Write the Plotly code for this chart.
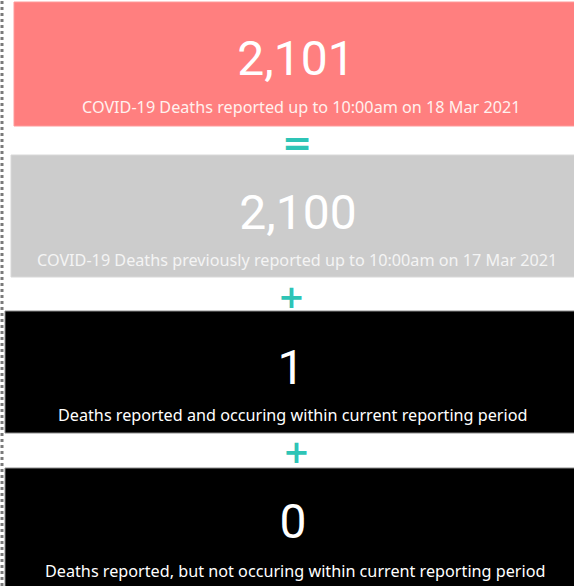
import plotly.graph_objects as go

W, H = 574, 586

# ---- data ----
values = [2101, 2100, 1, 0]
labels = [
    "COVID-19 Deaths reported up to 10:00am on 18 Mar 2021",
    "COVID-19 Deaths previously reported up to 10:00am on 17 Mar 2021",
    "Deaths reported and occuring within current reporting period",
    "Deaths reported, but not occuring within current reporting period",
]
operators = ["=", "+", "+"]

# ---- styling / layout (pixels) ----
card_fill = ["#FF7F7F", "#CCCCCC", "#000000", "#000000"]
card_line = ["#FF9A9A", "#D8D8D8", "#8A8A8A", "#8A8A8A"]
label_color = ["#FFF1EE", "#F4F4F4", "#FFFFFF", "#FFFFFF"]
card_box = [(14, 2, 576, 126), (11, 155, 576, 277), (5, 311, 576, 433), (5, 468, 576, 590)]
num_cy = [58.5, 212, 367.5, 521]
num_cx = [296, 298, 291, 293]
lab_cy = [106, 259, 414, 570]
lab_cx = [301, 297, 292, 295]
op_pos = [(296.5, 142), (291, 297), (296, 452)]
op_size = [36, 32, 32]

TEAL = "#2EC4B6"

def px(x):
    return x / W

def py(y):
    return 1 - y / H

fig = go.Figure()

shapes = []
for (x0, y0, x1, y1), fc, lc in zip(card_box, card_fill, card_line):
    shapes.append(dict(type="rect", xref="paper", yref="paper",
                       x0=px(x0), x1=px(x1), y0=py(y1), y1=py(y0),
                       fillcolor=fc, line=dict(color=lc, width=1), layer="below"))
# dotted left border
shapes.append(dict(type="line", xref="paper", yref="paper",
                   x0=px(2), x1=px(2), y0=0, y1=1,
                   line=dict(color="#7A7A7A", width=3, dash="dot")))

for v, cx, cy in zip(values, num_cx, num_cy):
    half_h = 40
    half_w = 200
    fig.add_trace(go.Indicator(
        mode="number", value=v,
        number=dict(valueformat=",", font=dict(family="Roboto", size=48, color="#FFFFFF")),
        domain=dict(x=[px(cx - half_w), px(cx + half_w)],
                    y=[py(cy + half_h), py(cy - half_h)]),
    ))

annotations = []
for t, c, cx, cy in zip(labels, label_color, lab_cx, lab_cy):
    annotations.append(dict(text=t, xref="paper", yref="paper", x=px(cx), y=py(cy + 1),
                            xanchor="center", yanchor="middle", showarrow=False,
                            font=dict(family="Noto Sans", size=16.2, color=c)))
for op, (cx, cy), s in zip(operators, op_pos, op_size):
    annotations.append(dict(text=op, xref="paper", yref="paper", x=px(cx), y=py(cy),
                            xanchor="center", yanchor="middle", showarrow=False,
                            font=dict(family="DejaVu Sans", size=s, color=TEAL, weight="bold")))

fig.update_layout(
    width=W, height=H, autosize=False,
    margin=dict(l=0, r=0, t=0, b=0),
    paper_bgcolor="#FFFFFF", plot_bgcolor="#FFFFFF",
    shapes=shapes, annotations=annotations,
    showlegend=False,
)

fig.write_html("out.html", config={"displayModeBar": False},
               post_script="document.body.style.margin='0';document.body.style.overflow='hidden';")
